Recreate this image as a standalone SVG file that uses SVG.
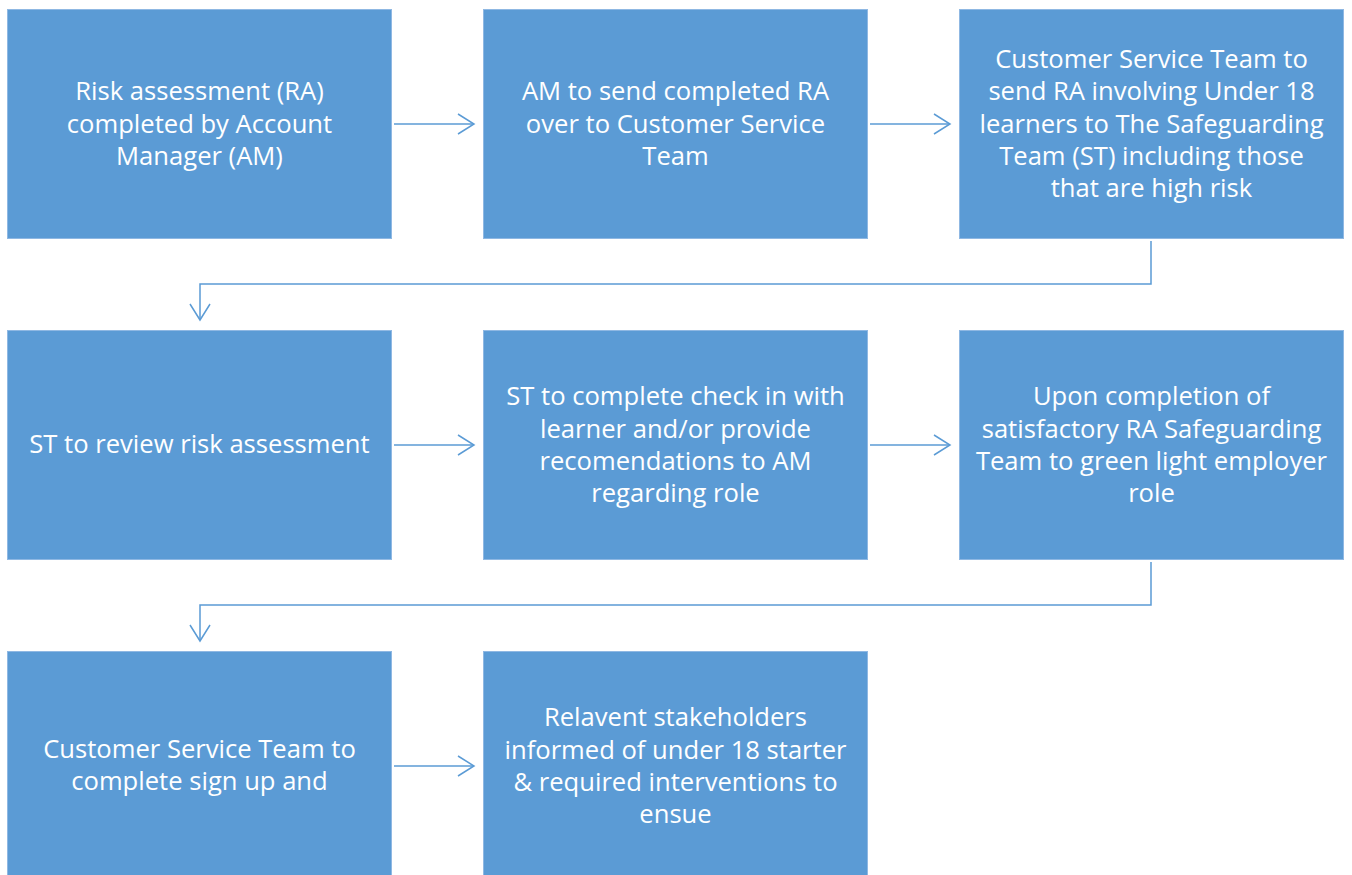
<svg xmlns="http://www.w3.org/2000/svg" width="1352" height="875" viewBox="0 0 1352 875">
<defs>
<style>
.box{fill:#5B9BD5;stroke:#8FB8E3;stroke-width:1}
.t{font-family:"Open Sans","Liberation Sans",sans-serif;font-size:25.6px;fill:#FFFFFF;text-anchor:middle}
.c{fill:none;stroke:#5B9BD5;stroke-width:1.5}
</style>
<marker id="ah" markerWidth="20" markerHeight="24" refX="17" refY="11" orient="auto" markerUnits="userSpaceOnUse">
<path d="M1,1 L17,11 L1,21" fill="none" stroke="#5B9BD5" stroke-width="1.5"/>
</marker>
</defs>
<rect width="1352" height="875" fill="#FFFFFF"/>
<g id="connectors">
<path class="c" d="M394,124 H474" marker-end="url(#ah)"/>
<path class="c" d="M870,124 H950" marker-end="url(#ah)"/>
<path class="c" d="M1151,241 V284 H200 V320" marker-end="url(#ah)"/>
<path class="c" d="M394,445 H474" marker-end="url(#ah)"/>
<path class="c" d="M870,445 H950" marker-end="url(#ah)"/>
<path class="c" d="M1151,562 V605 H200 V641" marker-end="url(#ah)"/>
<path class="c" d="M394,766 H474" marker-end="url(#ah)"/>
</g>
<g id="n1"><rect class="box" x="7.5" y="9.5" width="384" height="229"/>
<text class="t"><tspan x="199.5" y="100">Risk assessment (RA)</tspan><tspan x="199.5" y="133">completed by Account</tspan><tspan x="199.5" y="165">Manager (AM)</tspan></text></g>
<g id="n2"><rect class="box" x="483.5" y="9.5" width="384" height="229"/>
<text class="t"><tspan x="675.5" y="100">AM to send completed RA</tspan><tspan x="675.5" y="133">over to Customer Service</tspan><tspan x="675.5" y="165">Team</tspan></text></g>
<g id="n3"><rect class="box" x="959.5" y="9.5" width="384" height="229"/>
<text class="t"><tspan x="1151.5" y="68">Customer Service Team to</tspan><tspan x="1151.5" y="100">send RA involving Under 18</tspan><tspan x="1151.5" y="133">learners to The Safeguarding</tspan><tspan x="1151.5" y="165">Team (ST) including those</tspan><tspan x="1151.5" y="197">that are high risk</tspan></text></g>
<g id="n4"><rect class="box" x="7.5" y="330.5" width="384" height="229"/>
<text class="t"><tspan x="199.5" y="453">ST to review risk assessment</tspan></text></g>
<g id="n5"><rect class="box" x="483.5" y="330.5" width="384" height="229"/>
<text class="t"><tspan x="675.5" y="405">ST to complete check in with</tspan><tspan x="675.5" y="438">learner and/or provide</tspan><tspan x="675.5" y="470">recomendations to AM</tspan><tspan x="675.5" y="502">regarding role</tspan></text></g>
<g id="n6"><rect class="box" x="959.5" y="330.5" width="384" height="229"/>
<text class="t"><tspan x="1151.5" y="405">Upon completion of</tspan><tspan x="1151.5" y="438">satisfactory RA Safeguarding</tspan><tspan x="1151.5" y="470">Team to green light employer</tspan><tspan x="1151.5" y="502">role</tspan></text></g>
<g id="n7"><rect class="box" x="7.5" y="651.5" width="384" height="229"/>
<text class="t"><tspan x="199.5" y="758">Customer Service Team to</tspan><tspan x="199.5" y="790">complete sign up and</tspan></text></g>
<g id="n8"><rect class="box" x="483.5" y="651.5" width="384" height="229"/>
<text class="t"><tspan x="675.5" y="726">Relavent stakeholders</tspan><tspan x="675.5" y="759">informed of under 18 starter</tspan><tspan x="675.5" y="791">&amp; required interventions to</tspan><tspan x="675.5" y="823">ensue</tspan></text></g>
</svg>
